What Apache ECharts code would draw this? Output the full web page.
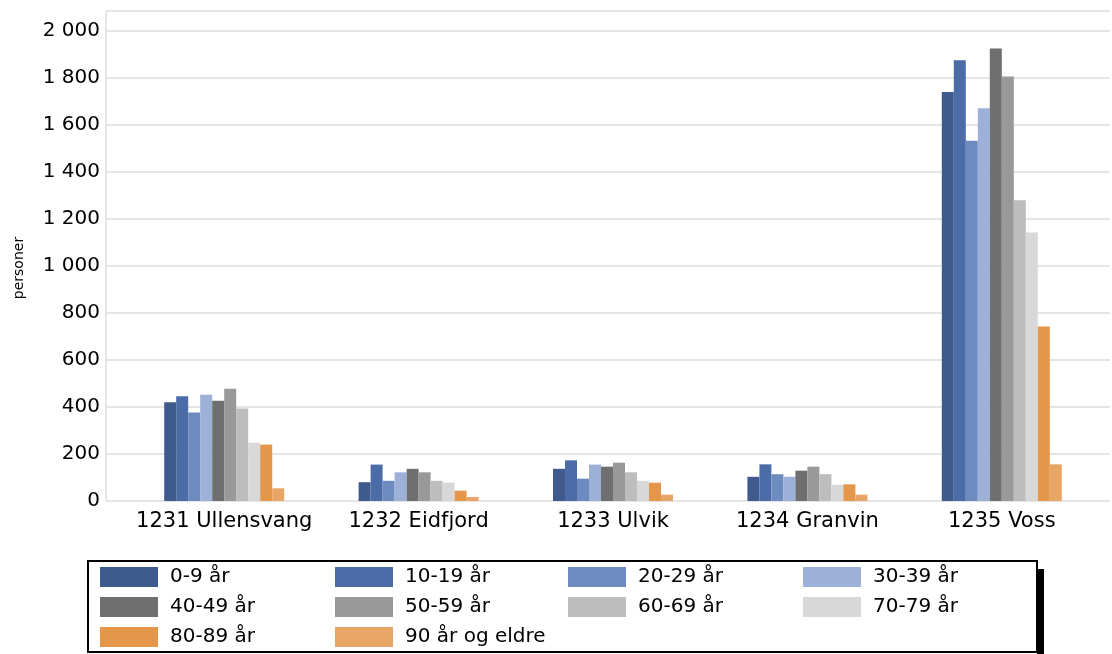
<!DOCTYPE html>
<html>
<head>
<meta charset="utf-8">
<script src="https://cdn.jsdelivr.net/npm/echarts@6/dist/echarts.min.js"></script>
<style>html,body{margin:0;padding:0;background:#fff}#c{width:1112px;height:654px}</style>
</head>
<body>
<div id="c"></div>
<script>
const categories = ['1231 Ullensvang', '1232 Eidfjord', '1233 Ulvik', '1234 Granvin', '1235 Voss'];
const ageGroups = ['0-9 år', '10-19 år', '20-29 år', '30-39 år', '40-49 år', '50-59 år', '60-69 år', '70-79 år', '80-89 år', '90 år og eldre'];
const age0_9   = [420, 80, 137, 103, 1740];
const age10_19 = [446, 155, 173, 156, 1875];
const age20_29 = [377, 86, 95, 114, 1533];
const age30_39 = [452, 122, 155, 103, 1671];
const age40_49 = [427, 137, 146, 129, 1925];
const age50_59 = [478, 122, 163, 146, 1806];
const age60_69 = [394, 86, 122, 114, 1280];
const age70_79 = [248, 78, 86, 69, 1142];
const age80_89 = [240, 44, 78, 71, 742];
const age90p   = [54, 17, 27, 27, 156];
const yTicks = [0, 200, 400, 600, 800, 1000, 1200, 1400, 1600, 1800, 2000];
const yTitle = 'personer';

const seriesValues = [age0_9, age10_19, age20_29, age30_39, age40_49, age50_59, age60_69, age70_79, age80_89, age90p];
const colors = ['#3f5b8d', '#4c6ca7', '#6d8bbf', '#9cb0d8', '#6f6f6f', '#999999', '#bdbdbd', '#d8d8d8', '#e4964a', '#e9a565'];

const FONT = 'DejaVu Sans';
const yMax = 2085;
const fmt = v => String(v).replace(/\B(?=(\d{3})+(?!\d))/g, ' ');

const chart = echarts.init(document.getElementById('c'), null, {renderer: 'canvas'});

function legendCol(left, idxs) {
  return {
    orient: 'vertical', left: left, top: 567, padding: 0,
    itemWidth: 58, itemHeight: 20, itemGap: 10, icon: 'rect',
    data: idxs.map(i => ageGroups[i]),
    textStyle: {fontFamily: FONT, fontSize: 20, color: '#000', lineHeight: 20, padding: [0, 0, 0, 7]},
    selectedMode: false
  };
}

chart.setOption({
  animation: false,
  color: colors,
  textStyle: {fontFamily: FONT},
  grid: [
    {left: 106, right: 2, top: 11, bottom: 153},
    {left: 127, right: 13, top: 11, bottom: 153}
  ],
  xAxis: [
    {gridIndex: 0, type: 'category', data: categories, show: false},
    {gridIndex: 1, type: 'category', data: categories,
     axisLine: {show: false}, axisTick: {show: false},
     axisLabel: {fontFamily: FONT, fontSize: 21, color: '#000', margin: 10, interval: 0, hideOverlap: false}}
  ],
  yAxis: [
    {gridIndex: 0, type: 'value', min: 0, max: yMax, interval: 200,
     axisLine: {show: true, lineStyle: {color: '#dcdcdc', width: 1.5}},
     axisTick: {show: false},
     axisLabel: {fontFamily: FONT, fontSize: 20, color: '#000', margin: 6, showMaxLabel: false,
       formatter: v => (yTicks.indexOf(v) >= 0 ? fmt(v) : '')},
     splitLine: {show: true, lineStyle: {color: '#dcdcdc', width: 1.5}}},
    {gridIndex: 1, type: 'value', min: 0, max: yMax, interval: 200, show: false,
     splitLine: {show: false}}
  ],
  legend: [
    legendCol(100, [0, 4, 8]),
    legendCol(335, [1, 5, 9]),
    legendCol(568, [2, 6]),
    legendCol(803, [3, 7])
  ],
  graphic: [
    {type: 'rect', z: 0, shape: {x: 1037, y: 569, width: 7, height: 90}, style: {fill: '#000'}},
    {type: 'rect', z: 0, shape: {x: 88, y: 561, width: 949, height: 91}, style: {fill: '#fff', stroke: '#000', lineWidth: 2}},
    {type: 'text', z: 1, x: 19, y: 268, rotation: Math.PI / 2,
     style: {text: yTitle, fontFamily: FONT, fontSize: 14, fill: '#000', align: 'center', verticalAlign: 'middle'}}
  ],
  series: seriesValues.map((vals, i) => ({
    name: ageGroups[i], type: 'bar', xAxisIndex: 1, yAxisIndex: 1,
    data: vals, barWidth: 12, barGap: '0%',
    itemStyle: {color: colors[i]}
  }))
});
</script>
</body>
</html>
